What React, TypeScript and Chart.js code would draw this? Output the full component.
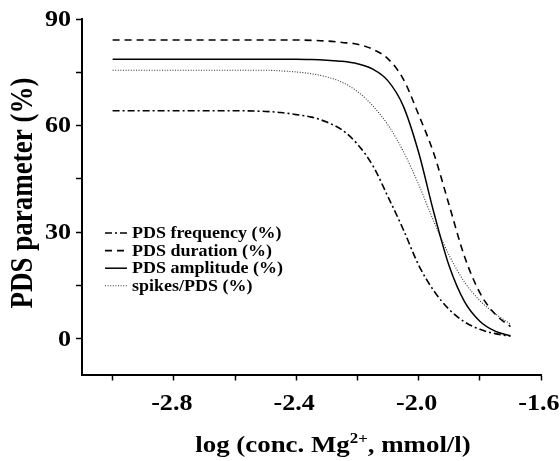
import React, { useEffect, useRef } from 'react';
import { Chart, registerables } from 'chart.js';

Chart.register(...registerables);

// ---------- data ----------
const xValues = [-3.0, -2.9, -2.8, -2.7, -2.6, -2.5, -2.45, -2.4, -2.35, -2.3, -2.25, -2.2, -2.15, -2.1, -2.05, -2.0, -1.95, -1.9, -1.85, -1.8, -1.75, -1.7];
const frequency = [64.2, 64.2, 64.2, 64.2, 64.2, 64.0, 63.7, 63.1, 62.4, 61.0, 58.8, 54.8, 48.8, 40.0, 30.8, 20.8, 13.5, 8.3, 4.8, 2.7, 1.5, 0.8];
const duration = [84.1, 84.1, 84.1, 84.1, 84.1, 84.1, 84.1, 84.1, 84.0, 83.8, 83.4, 82.9, 81.5, 78.8, 73.1, 63.1, 52.1, 37.6, 23.2, 13.0, 7.0, 3.5];
const amplitude = [78.7, 78.7, 78.7, 78.7, 78.7, 78.7, 78.7, 78.7, 78.6, 78.4, 78.1, 77.4, 75.9, 72.6, 65.5, 52.5, 35.5, 20.5, 10.5, 5.0, 2.2, 0.9];
const spikes = [75.6, 75.6, 75.6, 75.6, 75.6, 75.6, 75.4, 75.1, 74.6, 73.7, 72.2, 69.6, 65.6, 60.2, 52.8, 43.5, 33.0, 23.5, 16.0, 10.8, 7.1, 4.2];

const seriesLabels = ['PDS frequency (%)', 'PDS duration (%)', 'PDS amplitude (%)', 'spikes/PDS (%)'];
const xMajorTicks = [-2.8, -2.4, -2.0, -1.6];
const yMajorTicks = [0, 30, 60, 90];
const yAxisTitle = 'PDS parameter (%)';
const xAxisTitleParts = ['log (conc. Mg', '2+', ', mmol/l)'];

const FONT = "'Liberation Serif', 'Times New Roman', serif";
const STRETCH = 1.16;

const toPoints = (ys: number[]) => xValues.map((x, i) => ({ x, y: ys[i] }));

function stretchedText(
  ctx: CanvasRenderingContext2D,
  text: string,
  x: number,
  y: number,
  font: string,
  align: CanvasTextAlign,
  baseline: CanvasTextBaseline,
  sx: number
) {
  ctx.save();
  ctx.translate(x, y);
  ctx.scale(sx, 1);
  ctx.font = font;
  ctx.textAlign = align;
  ctx.textBaseline = baseline;
  ctx.fillText(text, 0, 0);
  ctx.restore();
}

const overlayPlugin = {
  id: 'overlay',
  afterDraw(chart: any) {
    const ctx: CanvasRenderingContext2D = chart.ctx;
    const xs = chart.scales.x;
    const ys = chart.scales.y;
    ctx.save();
    ctx.fillStyle = '#000';

    // tick labels
    const tickFont = `bold 22.5px ${FONT}`;
    xMajorTicks.forEach((t) => {
      stretchedText(ctx, t.toFixed(1), xs.getPixelForValue(t) - 2, 409.5, tickFont, 'center', 'alphabetic', STRETCH);
    });
    yMajorTicks.forEach((t) => {
      stretchedText(ctx, String(t), 71, ys.getPixelForValue(t) + 1, tickFont, 'right', 'middle', STRETCH);
    });

    // legend
    const rowY0 = 233;
    const rowGap = 17.6;
    chart.data.datasets.forEach((ds: any, i: number) => {
      const y = rowY0 + i * rowGap;
      ctx.save();
      ctx.strokeStyle = ds.borderColor;
      ctx.lineWidth = ds.borderWidth;
      ctx.setLineDash(ds.borderDash || []);
      ctx.beginPath();
      ctx.moveTo(105, y);
      ctx.lineTo(127, y);
      ctx.stroke();
      ctx.restore();
      stretchedText(ctx, ds.label, 132, y + 1, `bold 16.5px ${FONT}`, 'left', 'middle', 1.09);
    });

    // y title (stretched across its thickness, like the source)
    ctx.save();
    ctx.translate(24, 193);
    ctx.scale(STRETCH, 1);
    ctx.rotate(-Math.PI / 2);
    ctx.font = `bold 27px ${FONT}`;
    ctx.textAlign = 'center';
    ctx.textBaseline = 'middle';
    ctx.fillText(yAxisTitle, 0, 0);
    ctx.restore();

    // x title with superscript
    const big = `bold 24px ${FONT}`;
    const small = `bold 15px ${FONT}`;
    const sx = 1.12;
    ctx.font = big;
    const w1 = ctx.measureText(xAxisTitleParts[0]).width;
    const w3 = ctx.measureText(xAxisTitleParts[2]).width;
    ctx.font = small;
    const w2 = ctx.measureText(xAxisTitleParts[1]).width;
    const total = (w1 + w2 + w3) * sx;
    let x = 333 - total / 2;
    const base = 452;
    stretchedText(ctx, xAxisTitleParts[0], x, base, big, 'left', 'alphabetic', sx);
    x += w1 * sx;
    stretchedText(ctx, xAxisTitleParts[1], x, base - 9, small, 'left', 'alphabetic', sx);
    x += w2 * sx;
    stretchedText(ctx, xAxisTitleParts[2], x, base, big, 'left', 'alphabetic', sx);
    ctx.restore();
  },
};

export default function App() {
  const canvasRef = useRef<HTMLCanvasElement | null>(null);

  useEffect(() => {
    document.body.style.margin = '0';
    const canvas = canvasRef.current;
    if (!canvas) return;
    const chart = new Chart(canvas, {
      type: 'line',
      data: {
        datasets: [
          {
            label: seriesLabels[0],
            data: toPoints(frequency),
            borderColor: '#000',
            borderWidth: 1.6,
            borderDash: [7, 3, 2, 3],
          },
          {
            label: seriesLabels[1],
            data: toPoints(duration),
            borderColor: '#000',
            borderWidth: 1.6,
            borderDash: [7, 5],
          },
          {
            label: seriesLabels[2],
            data: toPoints(amplitude),
            borderColor: '#000',
            borderWidth: 1.5,
            borderDash: [],
          },
          {
            label: seriesLabels[3],
            data: toPoints(spikes),
            borderColor: '#333',
            borderWidth: 1.1,
            borderDash: [1, 1.6],
          },
        ] as any,
      },
      options: {
        responsive: false,
        animation: false,
        layout: { padding: { top: 19, right: 19, left: 0, bottom: 0 } },
        elements: {
          point: { radius: 0 },
          line: { fill: false, cubicInterpolationMode: 'monotone', tension: 0.4 },
        },
        plugins: {
          legend: { display: false },
          tooltip: { enabled: false },
          title: { display: false },
        },
        scales: {
          x: {
            type: 'linear',
            min: -3.1,
            max: -1.6,
            border: { display: true, color: '#000', width: 2 },
            grid: {
              display: true,
              drawOnChartArea: false,
              drawTicks: true,
              tickLength: 6,
              tickWidth: 1.5,
              tickColor: '#000',
            },
            ticks: {
              display: false,
              stepSize: 0.2,
              includeBounds: false,
              autoSkip: false,
              maxRotation: 0,
            },
            afterFit: (scale: any) => {
              scale.height = 86.5;
              scale.paddingLeft = 0;
              scale.paddingRight = 0;
            },
          },
          y: {
            type: 'linear',
            min: -10,
            max: 90,
            border: { display: true, color: '#000', width: 2 },
            grid: {
              display: true,
              drawOnChartArea: false,
              drawTicks: true,
              tickLength: 6,
              tickWidth: 1.5,
              tickColor: '#000',
            },
            ticks: {
              display: false,
              stepSize: 15,
              includeBounds: false,
              autoSkip: false,
            },
            afterFit: (scale: any) => {
              scale.width = 82;
              scale.paddingTop = 0;
              scale.paddingBottom = 0;
            },
          },
        },
      } as any,
      plugins: [overlayPlugin],
    });
    return () => chart.destroy();
  }, []);

  return (
    <div style={{ width: 560, height: 461, background: '#fff' }}>
      <canvas ref={canvasRef} width={560} height={461} />
    </div>
  );
}
